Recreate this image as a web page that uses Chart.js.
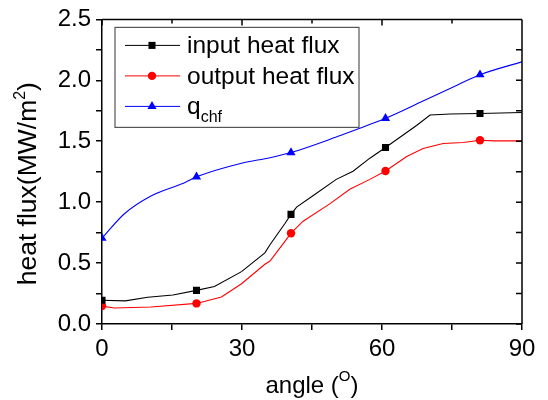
<!DOCTYPE html>
<html>
<head>
<meta charset="utf-8">
<script src="https://cdn.jsdelivr.net/npm/chart.js@4/dist/chart.umd.min.js"></script>
<style>
  html, body { margin: 0; padding: 0; background: #fff; }
  canvas { display: block; }
</style>
</head>
<body>
<canvas id="c" width="548" height="400"></canvas>
<script>
// ---- data ----
const inputAngles  = [0, 5, 9.8, 15.2, 20.25, 24.1, 29.9, 34.9, 36, 39.2, 40.5, 41.7, 45.2, 50.2, 53.8, 57.4, 60.75, 67.4, 70.3, 74.6, 81, 90];
const inputFlux    = [0.195, 0.19, 0.22, 0.238, 0.276, 0.308, 0.43, 0.584, 0.651, 0.825, 0.90, 0.959, 1.053, 1.187, 1.254, 1.361, 1.449, 1.629, 1.715, 1.723, 1.728, 1.736];
const outputAngles = [0, 2.7, 10.5, 20.25, 25.6, 29.9, 34.9, 36, 39.2, 40.5, 43.1, 48.8, 53.1, 57.4, 60.75, 65.3, 68.8, 73.1, 77.4, 81, 84, 90];
const outputFlux   = [0.147, 0.131, 0.14, 0.169, 0.222, 0.33, 0.49, 0.517, 0.678, 0.745, 0.844, 0.986, 1.106, 1.187, 1.256, 1.374, 1.441, 1.481, 1.49, 1.508, 1.503, 1.503];
const chfAngles    = [0, 4.8, 10.6, 17.7, 20.25, 29.9, 36, 40.5, 50.2, 60.75, 68.1, 76.3, 81, 90];
const chfFlux      = [0.704, 0.905, 1.053, 1.16, 1.208, 1.32, 1.365, 1.407, 1.535, 1.688, 1.817, 1.964, 2.046, 2.152];
const markerAngles = [0, 20.25, 40.5, 60.75, 81];
const seriesNames  = ['input heat flux', 'output heat flux', 'q', 'chf'];
const xTickLabels  = ['0', '30', '60', '90'];
const yTickLabels  = ['0.0', '0.5', '1.0', '1.5', '2.0', '2.5'];
const xTitleParts  = ['angle (', 'O', ')'];
const yTitleParts  = ['heat flux(MW/m', '2', ')'];

const FONT = "'Liberation Sans', Arial, sans-serif";

function pts(xs, ys) { return xs.map((x, i) => ({ x: x, y: ys[i] })); }
function radii(xs, r) { return xs.map(x => markerAngles.includes(x) ? r : 0); }

const series = [
  { label: seriesNames[0], data: pts(inputAngles, inputFlux), color: '#000000', style: 'rect', r: 5, rad: radii(inputAngles, 5), tension: 0 },
  { label: seriesNames[1], data: pts(outputAngles, outputFlux), color: '#ff0000', style: 'circle', r: 4.2, rad: radii(outputAngles, 4.2), tension: 0 },
  { label: seriesNames[2] + seriesNames[3], data: pts(chfAngles, chfFlux), color: '#0000ff', style: 'triangle', r: 5.3, rad: radii(chfAngles, 5.3), tension: 0.4 }
];

function drawMarker(ctx, style, x, y, r, color) {
  ctx.save();
  ctx.fillStyle = color;
  ctx.beginPath();
  if (style === 'rect') {
    const s = r * Math.SQRT2 / 2;
    ctx.rect(x - s, y - s, 2 * s, 2 * s);
  } else if (style === 'circle') {
    ctx.arc(x, y, r, 0, Math.PI * 2);
  } else {
    ctx.moveTo(x, y - r);
    ctx.lineTo(x + r * Math.sin(2 * Math.PI / 3), y - r * Math.cos(2 * Math.PI / 3));
    ctx.lineTo(x + r * Math.sin(4 * Math.PI / 3), y - r * Math.cos(4 * Math.PI / 3));
    ctx.closePath();
  }
  ctx.fill();
  ctx.restore();
}

function drawParts(ctx, parts, sizes, raises, x, y) {
  // x = center, y = baseline
  const widths = parts.map((p, i) => { ctx.font = sizes[i] + 'px ' + FONT; return ctx.measureText(p).width; });
  let cx = x - widths.reduce((a, b) => a + b, 0) / 2;
  parts.forEach((p, i) => {
    ctx.font = sizes[i] + 'px ' + FONT;
    ctx.fillText(p, cx, y - raises[i]);
    cx += widths[i];
  });
}

const framePlugin = {
  id: 'frame',
  afterDraw(chart) {
    const { ctx, chartArea: a, scales } = chart;
    const xs = scales.x, ys = scales.y;
    ctx.save();
    ctx.strokeStyle = '#000';
    ctx.lineWidth = 1.5;
    ctx.beginPath();
    ctx.moveTo(a.left, a.top); ctx.lineTo(a.right, a.top);
    ctx.moveTo(a.right, a.top); ctx.lineTo(a.right, a.bottom);
    // inward ticks on top and right
    for (let v = 0; v <= 90; v += 15) {
      const px = xs.getPixelForValue(v);
      const len = v % 30 === 0 ? 6 : 4;
      ctx.moveTo(px, a.top); ctx.lineTo(px, a.top + len);
    }
    for (let v = 0; v <= 2.5001; v += 0.25) {
      const py = ys.getPixelForValue(v);
      ctx.moveTo(a.right, py); ctx.lineTo(a.right - 6, py);
    }
    ctx.stroke();

    // legend box
    const lx = a.left + 13, ly = a.top + 8, lw = 244, lh = 100;
    ctx.lineWidth = 1.2;
    ctx.strokeStyle = '#555';
    ctx.strokeRect(lx, ly, lw, lh);
    const rows = [ly + 18, ly + 48.5, ly + 79];
    series.forEach((s, i) => {
      const yy = rows[i];
      ctx.strokeStyle = s.color;
      ctx.lineWidth = 1;
      ctx.beginPath();
      ctx.moveTo(lx + 10, yy); ctx.lineTo(lx + 65, yy);
      ctx.stroke();
      drawMarker(ctx, s.style, lx + 37, yy, s.r, s.color);
      ctx.fillStyle = '#000';
      ctx.textAlign = 'left';
      ctx.textBaseline = 'alphabetic';
      ctx.font = '24.5px ' + FONT;
      if (i < 2) {
        ctx.fillText(s.label, lx + 72, yy + 8);
      } else {
        ctx.fillText(seriesNames[2], lx + 72, yy + 8);
        const w = ctx.measureText(seriesNames[2]).width;
        ctx.font = '16px ' + FONT;
        ctx.fillText(seriesNames[3], lx + 72 + w, yy + 16);
      }
    });

    // axis titles
    ctx.fillStyle = '#000';
    ctx.textAlign = 'left';
    ctx.textBaseline = 'alphabetic';
    drawParts(ctx, xTitleParts, [24, 15, 24], [0, 12, 0], (a.left + a.right) / 2, 393);
    ctx.save();
    ctx.translate(36, (a.top + a.bottom) / 2 + 12);
    ctx.rotate(-Math.PI / 2);
    drawParts(ctx, yTitleParts, [26.5, 16, 26.5], [0, 11, 0], 0, 0);
    ctx.restore();
    ctx.restore();
  }
};

new Chart(document.getElementById('c'), {
  type: 'line',
  data: {
    datasets: series.map(s => ({
      label: s.label,
      data: s.data,
      borderColor: s.color,
      backgroundColor: s.color,
      borderWidth: 1.1,
      pointStyle: s.style,
      pointRadius: s.rad,
      pointBorderWidth: 0,
      pointHoverRadius: 0,
      tension: s.tension,
      cubicInterpolationMode: s.tension ? 'monotone' : 'default',
      fill: false
    }))
  },
  options: {
    responsive: false,
    animation: false,
    events: [],
    layout: { padding: { top: 13, right: 26, left: 0, bottom: 0 } },
    plugins: { legend: { display: false }, tooltip: { enabled: false }, title: { display: false } },
    scales: {
      x: {
        type: 'linear', min: 0, max: 90,
        afterFit: s => { s.height = 76; },
        ticks: {
          stepSize: 15, padding: 5, color: '#000', font: { family: FONT, size: 24 },
          maxRotation: 0, autoSkip: false,
          callback: v => (v % 30 === 0 ? xTickLabels[v / 30] : '')
        },
        grid: { drawOnChartArea: false, drawTicks: true, tickLength: 6, color: '#000', lineWidth: 1.5 },
        border: { display: true, color: '#000', width: 1.5 }
      },
      y: {
        type: 'linear', min: 0, max: 2.5,
        afterFit: s => { s.width = 102; },
        ticks: {
          stepSize: 0.25, padding: 5, color: '#000', font: { family: FONT, size: 24 },
          autoSkip: false,
          callback: v => { const k = Math.round(v * 4); return k % 2 === 0 ? yTickLabels[k / 2] : ''; }
        },
        grid: { drawOnChartArea: false, drawTicks: true, tickLength: 6, color: '#000', lineWidth: 1.5 },
        border: { display: true, color: '#000', width: 1.5 }
      }
    }
  },
  plugins: [framePlugin]
});
</script>
</body>
</html>
